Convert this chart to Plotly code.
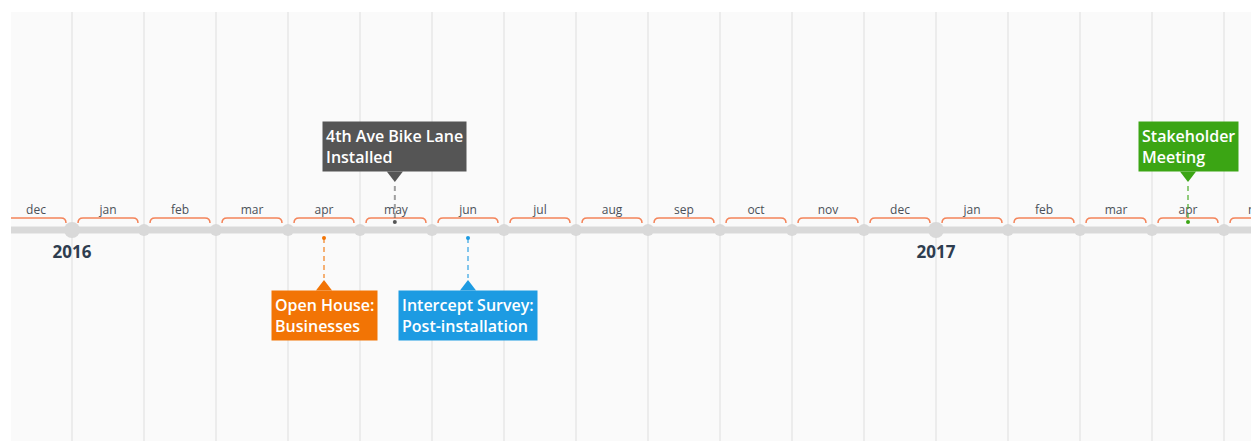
import calendar
import plotly.graph_objects as go

# Timeline data
months = ["2015-12", "2016-01", "2016-02", "2016-03", "2016-04", "2016-05", "2016-06",
          "2016-07", "2016-08", "2016-09", "2016-10", "2016-11", "2016-12",
          "2017-01", "2017-02", "2017-03", "2017-04", "2017-05"]
month_names = ["dec", "jan", "feb", "mar", "apr", "may", "jun", "jul", "aug", "sep",
               "oct", "nov", "dec", "jan", "feb", "mar", "apr", "may"]
years = ["2016", "2017"]

event_labels = ["Open House:<br>Businesses", "4th Ave Bike Lane<br>Installed",
                "Intercept Survey:<br>Post-installation", "Stakeholder<br>Meeting"]
event_dates = ["2016-04-16", "2016-05-16", "2016-06-16", "2017-04-16"]
event_side = ["below", "above", "below", "above"]
event_colors = ["#f27405", "#555555", "#1d9be2", "#3ba514"]


def month_pos(date):
    # months since jan 2016, each month gets the same width
    parts = [int(p) for p in date.split("-")]
    y, m = parts[0], parts[1]
    pos = (y - 2016) * 12 + (m - 1)
    if len(parts) > 2:
        pos += (parts[2] - 1) / calendar.monthrange(y, m)[1]
    return pos


mpos = [month_pos(m) for m in months]
ypos = [month_pos(y + "-01") for y in years]
epos = [month_pos(d) for d in event_dates]
px = 1 / 72  # one pixel in month units

fig = go.Figure()

# axis line
fig.add_shape(type="line", xref="paper", x0=0, x1=1, y0=0, y1=0,
              line=dict(color="#d9d9d9", width=7), layer="below")

# month brackets
for p in mpos:
    x0, x1 = p + 6 * px, p + 66 * px
    path = (f"M {x0},7 Q {x0},12 {x0 + 5 * px},12 L {x1 - 5 * px},12 "
            f"Q {x1},12 {x1},7")
    fig.add_shape(type="path", path=path, line=dict(color="#f4845a", width=1.5))

# dashed connectors
for p, side, c in zip(epos, event_side, event_colors):
    if side == "above":
        y0, y1, yd = 44, 8, 8
    else:
        y0, y1, yd = -8, -48, -8
    fig.add_shape(type="line", x0=p, x1=p, y0=y0, y1=y1, opacity=0.55,
                  line=dict(color=c, width=2, dash="5px,4px"))
    fig.add_trace(go.Scatter(x=[p], y=[yd], mode="markers", hoverinfo="skip",
                             marker=dict(size=4, color=c)))

# boundary dots
fig.add_trace(go.Scatter(x=mpos, y=[0] * len(mpos), mode="markers", hoverinfo="skip",
                         marker=dict(size=12, color="#d9d9d9")))
fig.add_trace(go.Scatter(x=ypos, y=[0] * len(ypos), mode="markers", hoverinfo="skip",
                         marker=dict(size=16, color="#d9d9d9")))

# month labels (clipped to the plot so the last one is cut at the edge)
fig.add_trace(go.Scatter(x=[p + 0.5 for p in mpos], y=[19] * len(mpos), mode="text",
                         text=month_names, cliponaxis=True, hoverinfo="skip",
                         textfont=dict(family="Open Sans", size=12, color="#4a5058")))

# year labels
fig.add_trace(go.Scatter(x=ypos, y=[-24] * len(ypos), mode="text", text=years,
                         hoverinfo="skip",
                         textfont=dict(family="Open Sans", size=17, color="#2e3d4f",
                                       weight=700)))

# event callouts
for p, lab, side, c in zip(epos, event_labels, event_side, event_colors):
    if side == "above":
        fig.add_trace(go.Scatter(x=[p], y=[55], mode="markers", hoverinfo="skip",
                                 marker=dict(symbol="triangle-down", size=14, color=c)))
        fig.add_annotation(x=p, y=58, yanchor="bottom", xanchor="center", text=lab,
                           showarrow=False, align="left", bgcolor=c, borderpad=3,
                           font=dict(family="Open Sans", size=16, color="white",
                                     weight=600))
    else:
        fig.add_trace(go.Scatter(x=[p], y=[-57], mode="markers", hoverinfo="skip",
                                 marker=dict(symbol="triangle-up", size=14, color=c)))
        fig.add_annotation(x=p, y=-60, yanchor="top", xanchor="center", text=lab,
                           showarrow=False, align="left", bgcolor=c, borderpad=3,
                           font=dict(family="Open Sans", size=16, color="white",
                                     weight=600))

# page body keeps an 8px margin, so the figure is shrunk to fit the window
fig.update_layout(
    width=1251, height=433,
    margin=dict(l=3, r=0, t=4, b=0),
    paper_bgcolor="white", plot_bgcolor="#fafafa",
    showlegend=False,
    xaxis=dict(range=[-61 / 72, -61 / 72 + 1248 / 72], tickvals=mpos, showticklabels=False,
               showgrid=True, gridcolor="#ececec", gridwidth=2, zeroline=False,
               fixedrange=True),
    yaxis=dict(range=[-211, 218], visible=False, fixedrange=True),
)

fig.write_html("out.html")
